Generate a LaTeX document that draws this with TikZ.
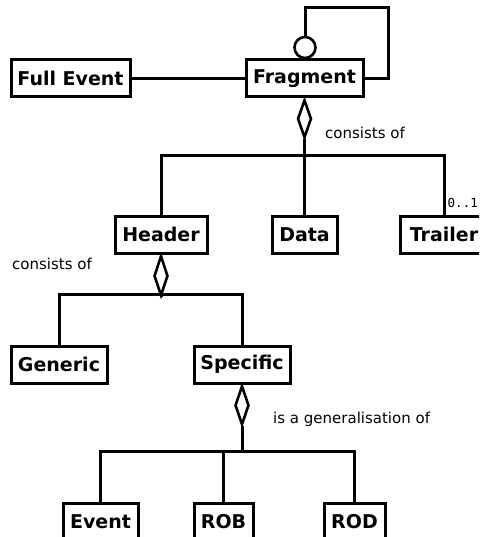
\documentclass[tikz,border=0pt]{standalone}
\usepackage{fontspec}
\setmainfont{DejaVu Sans}
\newfontfamily\monofnt{DejaVu Sans Mono}
\usetikzlibrary{shapes.geometric,calc}
\tikzset{
  cls/.style={draw, line width=3pt, inner sep=0pt, minimum height=37pt,
    font=\fontsize{19}{21}\selectfont\bfseries},
  agg/.style={draw, line width=2.6pt, diamond, inner sep=0pt, minimum width=14pt,
    minimum height=38pt, shape aspect=0.37, fill=white},
  lbl/.style={font=\fontsize{15}{17}\selectfont, anchor=west, inner sep=0pt},
  conn/.style={line width=3pt}
}
\begin{document}
\begin{tikzpicture}[x=1pt,y=1pt]
\useasboundingbox (0,0) rectangle (479,-537);
\clip (0,0) rectangle (479,-537);
% classes
\node[cls, minimum width=119pt] (fe) at (70.5,-78.5) {Full Event};
\node[cls, minimum width=117pt] (frag) at (304.5,-78.5) {Fragment};
\node[cls, minimum width=92pt] (hdr) at (161,-234.5) {Header};
\node[cls, minimum width=65pt] (data) at (304.5,-234.5) {Data};
\node[cls, minimum width=88pt] (trl) at (444,-234.5) {Trailer};
\node[cls, minimum width=96pt] (gen) at (59,-364.5) {Generic};
\node[cls, minimum width=96pt] (spec) at (242,-364.5) {Specific};
\node[cls, minimum width=75pt] (ev) at (100.5,-521.5) {Event};
\node[cls, minimum width=59pt] (rob) at (223.5,-521.5) {ROB};
\node[cls, minimum width=61pt] (rod) at (354.5,-521.5) {ROD};
% Full Event -- Fragment
\draw[conn] (fe) -- (frag);
% self loop with circle
\node[draw, circle, line width=2.6pt, minimum size=21pt, inner sep=0pt] (circ) at (305,-47.5) {};
\coordinate (lc1) at (388,-78.5);
\coordinate (lc2) at (388,-8);
\draw[conn] (frag.east) -- (lc1) -- (lc2) -| (circ.north);
% Fragment aggregation
\node[agg, anchor=north] (d1) at (frag.south) {};
\coordinate (j1) at (304.5,-156);
\draw[conn] (d1.south) -- (j1);
\draw[conn] (hdr.north) |- (j1) -| (trl.north);
\draw[conn] (data.north) -- (data.north |- j1);
\node[lbl] (l1) at (325,-133) {consists of};
\node[font=\fontsize{12.5}{14}\selectfont\monofnt, anchor=west, inner sep=0pt] (m1) at (447.5,-203) {0..1};
% Header aggregation
\node[agg, anchor=north, minimum height=40pt] (d2) at (hdr.south) {};
\coordinate (j2) at (161,-294);
\draw[conn] (d2.south) -- (j2);
\draw[conn] (gen.north) |- (j2) -| (spec.north);
\node[lbl] (l2) at (12,-264) {consists of};
% Specific aggregation
\node[agg, anchor=north, minimum height=39pt] (d3) at (spec.south) {};
\coordinate (j3) at (242,-451);
\draw[conn] (d3.south) -- (j3);
\draw[conn] (ev.north) |- (j3) -| (rod.north);
\draw[conn] (rob.north) -- (rob.north |- j3);
\node[lbl] (l3) at (273,-419) {is a generalisation of};
\end{tikzpicture}
\end{document}
